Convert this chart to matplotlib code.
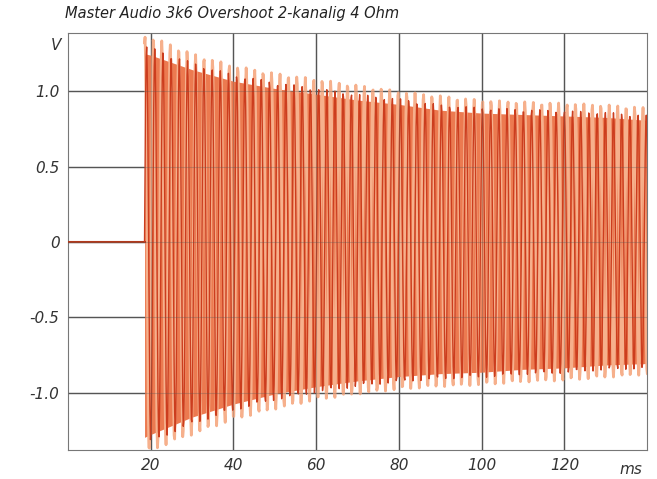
"""
Overshoot burst of a two-channel amplifier into 4 Ohm.
"""

import matplotlib.pyplot as plt
import numpy as np

# Envelope (ms, volts)
env_t = [18.5, 20, 25, 30, 40, 50, 60, 70, 80, 90, 100, 110, 120, 130, 140]
upper_light = [1.37, 1.36, 1.31, 1.25, 1.17, 1.12, 1.08, 1.04, 1.00, 0.97, 0.94, 0.93, 0.92, 0.91, 0.89]
lower_light = [-1.40, -1.39, -1.33, -1.28, -1.18, -1.11, -1.05, -1.01, -0.98, -0.96, -0.95, -0.93, -0.92, -0.90, -0.88]
upper_dark = [1.30, 1.29, 1.24, 1.19, 1.11, 1.06, 1.02, 0.98, 0.95, 0.91, 0.89, 0.88, 0.87, 0.86, 0.84]
lower_dark = [-1.35, -1.33, -1.27, -1.21, -1.12, -1.05, -1.00, -0.96, -0.93, -0.91, -0.90, -0.88, -0.87, -0.85, -0.84]

onset = 18.5          # ms, burst start
tone_light = 0.49     # visible beat of the tone, cycles per ms
tone_dark = 0.505
scope_step = 0.13     # ms between scope samples

x_ticks = [20, 40, 60, 80, 100, 120]
y_ticks = [-1.0, -0.5, 0, 0.5, 1.0]
y_labels = ["-1.0", "-0.5", "0", "0.5", "1.0"]


def burst(t, freq, upper, lower, phase):
    s = np.sin(2 * np.pi * freq * (t - onset) + phase)
    up = np.interp(t, env_t, upper)
    lo = np.interp(t, env_t, lower)
    return np.where(s > 0, s * up, -s * lo)


t = np.arange(onset, 140.2, scope_step)
body_up = np.array(upper_dark) * 0.96
body_lo = np.array(lower_dark) * 0.96

fig = plt.figure(figsize=(6.57, 4.79), dpi=100)
ax = fig.add_axes([0.1035, 0.0605, 0.8815, 0.8705])

ax.grid(True, color="#555555", lw=1.0, zorder=0)
ax.set_axisbelow(True)

ax.fill_between(env_t, body_lo, body_up, color="#ec7a50", lw=0, zorder=1)

ax.plot([0, onset], [0, 0], color="#b33a1c", lw=1.5, zorder=3)
ax.plot(t, burst(t, tone_light, upper_light, lower_light, 1.3),
        color="#f6b08c", lw=2.0, zorder=2)
ax.plot(t, burst(t, tone_dark, upper_dark, lower_dark, 0.0),
        color="#cc3d1e", lw=1.0, zorder=3)

# scope grid shows faintly through the trace
for y in y_ticks:
    ax.axhline(y, color="#555555", lw=0.8, alpha=0.3, zorder=4)
for x in x_ticks:
    ax.axvline(x, color="#555555", lw=0.8, alpha=0.3, zorder=4)

ax.set_xlim(0, 140)
ax.set_ylim(-1.38, 1.385)
ax.set_xticks(x_ticks)
ax.set_yticks(y_ticks)
ax.set_yticklabels(y_labels)
ax.tick_params(length=0, labelsize=11, labelcolor="#333333", pad=6)
for lab in ax.get_xticklabels() + ax.get_yticklabels():
    lab.set_style("italic")

for sp in ax.spines.values():
    sp.set_color("#777777")

ax.text(136, -1.46, "ms", ha="center", va="top", fontsize=11, style="italic",
        color="#333333")
ax.text(-0.012, 1.30, "V", ha="right", va="center", fontsize=11, style="italic",
        color="#333333", transform=ax.get_yaxis_transform())

fig.text(0.099, 0.972, "Master Audio 3k6 Overshoot 2-kanalig 4 Ohm",
         ha="left", va="center", fontsize=10.5, style="italic", color="#222222")

plt.savefig("out.png", dpi=100)
